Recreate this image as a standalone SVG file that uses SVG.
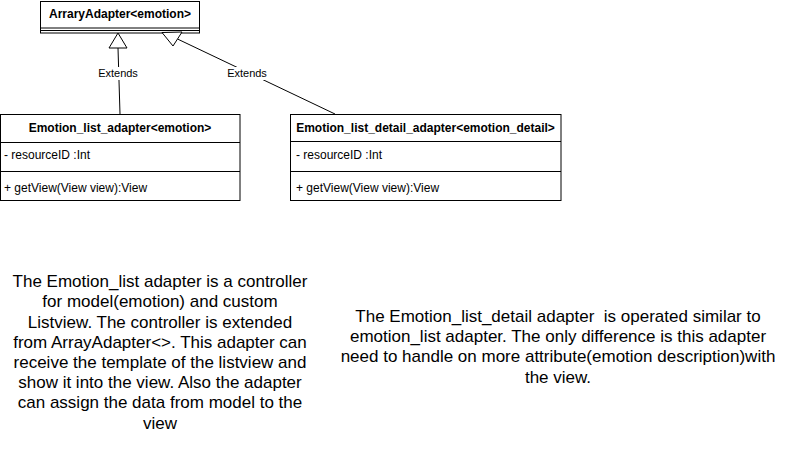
<svg xmlns="http://www.w3.org/2000/svg" width="786" height="451" viewBox="0 0 786 451">
<style>
.box{fill:#fff;stroke:#000;stroke-width:1}
.ln{stroke:#000;stroke-width:1;fill:none}
.hd{font-family:"Liberation Sans",Arial,Helvetica,sans-serif;font-size:12px;font-weight:bold;fill:#000;text-anchor:middle}
.tx{font-family:"Liberation Sans",Arial,Helvetica,sans-serif;font-size:12px;fill:#000}
.lb{font-family:"Liberation Sans",Arial,Helvetica,sans-serif;font-size:11px;fill:#000;text-anchor:middle}
.big{font-family:"Liberation Sans",Arial,Helvetica,sans-serif;font-size:17px;fill:#000;text-anchor:middle}
.tri{fill:#fff;stroke:#000;stroke-width:1}
</style>
<rect width="786" height="451" fill="#fff"/>
<g id="ArrayAdapter">
<rect class="box" x="40.5" y="1.5" width="159" height="31.5"/>
<line class="ln" x1="40.5" y1="28" x2="199.5" y2="28"/>
<line class="ln" x1="40.5" y1="30.5" x2="199.5" y2="30.5"/>
<text class="hd" x="120" y="18">ArraryAdapter&lt;emotion&gt;</text>
</g>
<g id="Emotion_list_adapter">
<rect class="box" x="0.5" y="114.5" width="239.5" height="86"/>
<line class="ln" x1="0.5" y1="142.5" x2="240" y2="142.5"/>
<line class="ln" x1="0.5" y1="171.5" x2="240" y2="171.5"/>
<text class="hd" x="120" y="132">Emotion_list_adapter&lt;emotion&gt;</text>
<text class="tx" x="4" y="159">- resourceID :Int</text>
<text class="tx" x="4" y="192">+ getView(View view):View</text>
</g>
<g id="Emotion_list_detail_adapter">
<rect class="box" x="290.5" y="114.5" width="270.5" height="86"/>
<line class="ln" x1="290.5" y1="141.5" x2="561" y2="141.5"/>
<line class="ln" x1="290.5" y1="171.5" x2="561" y2="171.5"/>
<text class="hd" x="425.5" y="132">Emotion_list_detail_adapter&lt;emotion_detail&gt;</text>
<text class="tx" x="296" y="159">- resourceID :Int</text>
<text class="tx" x="296" y="192">+ getView(View view):View</text>
</g>
<g id="connectors">
<line class="ln" x1="118" y1="48" x2="120" y2="114"/>
<polygon class="tri" points="118,33 109,48 127,48"/>
<rect x="99" y="67" width="38" height="13" fill="#fff"/>
<text class="lb" x="118" y="77">Extends</text>
<line class="ln" x1="177.5" y1="39" x2="335" y2="114"/>
<polygon class="tri" points="162,32.5 182,32 173,46"/>
<rect x="228" y="67" width="38" height="13" fill="#fff"/>
<text class="lb" x="247" y="77">Extends</text>
</g>
<g id="note_left">
<text class="big" x="160" y="287">The Emotion_list adapter is a controller</text>
<text class="big" x="160" y="307">for model(emotion) and custom</text>
<text class="big" x="160" y="328">Listview. The controller is extended</text>
<text class="big" x="160" y="348">from ArrayAdapter&lt;&gt;. This adapter can</text>
<text class="big" x="160" y="368">receive the template of the listview and</text>
<text class="big" x="160" y="388">show it into the view. Also the adapter</text>
<text class="big" x="160" y="408">can assign the data from model to the</text>
<text class="big" x="160" y="429">view</text>
</g>
<g id="note_right">
<text class="big" x="558" y="322" xml:space="preserve">The Emotion_list_detail adapter  is operated similar to</text>
<text class="big" x="558" y="342">emotion_list adapter. The only difference is this adapter</text>
<text class="big" x="558" y="362">need to handle on more attribute(emotion description)with</text>
<text class="big" x="558" y="383">the view.</text>
</g>
</svg>
